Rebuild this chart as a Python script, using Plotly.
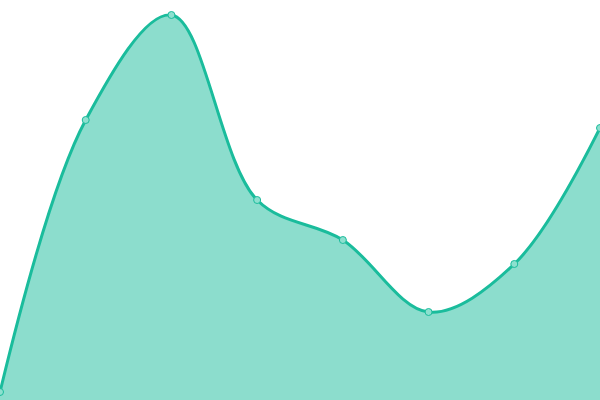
import plotly.graph_objects as go

# point index along the x axis and the value at each point
steps = [0, 1, 2, 3, 4, 5, 6, 7]
values = [8, 280, 385, 200, 160, 88, 136, 272]

fig = go.Figure()
fig.add_trace(go.Scatter(
    x=steps,
    y=values,
    mode="lines+markers",
    line=dict(color="#1abc9c", width=3, shape="spline", smoothing=1),
    fill="tozeroy",
    fillcolor="rgba(26,188,156,0.5)",
    marker=dict(size=7, color="#8de0cf", line=dict(color="#1abc9c", width=1)),
    cliponaxis=False,
))

fig.update_layout(
    width=600,
    height=400,
    margin=dict(l=0, r=0, t=0, b=0),
    paper_bgcolor="white",
    plot_bgcolor="white",
    showlegend=False,
    xaxis=dict(range=[0, 7], visible=False),
    yaxis=dict(range=[0, 400], visible=False),
)

# the page body has a default margin, drop it so the chart sits at 0,0
fig.write_html(
    "out.html",
    config={"displayModeBar": False},
    post_script="document.body.style.margin='0';",
)
